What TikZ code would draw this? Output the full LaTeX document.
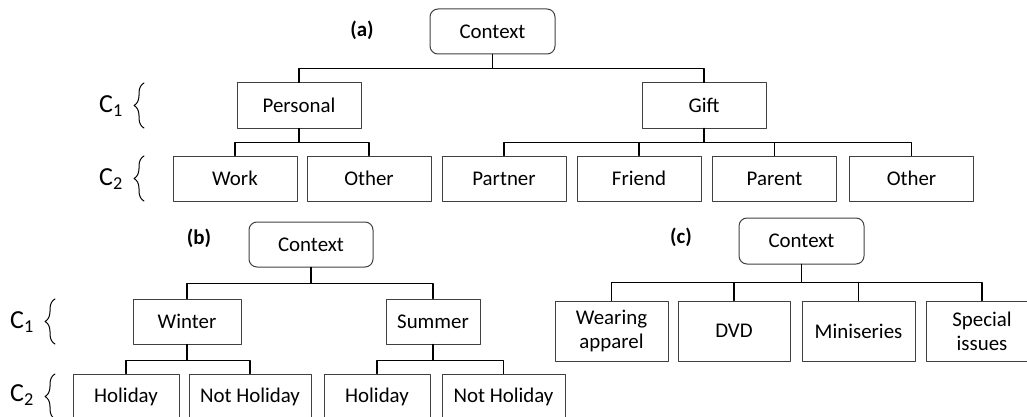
\documentclass[tikz,border=0pt]{standalone}
\usepackage{fontspec}
\setmainfont{Carlito}
\usepackage{tikz}
\usetikzlibrary{positioning}
\usetikzlibrary{decorations.pathreplacing}

\tikzset{
  box/.style={draw=black!75,line width=1pt,minimum width=124pt,minimum height=45pt,inner sep=0pt,align=center,font=\fontsize{20.9}{24}\selectfont},
  rootbox/.style={box,rounded corners=8pt},
  link/.style={line width=1.3pt},
  tag/.style={font=\fontsize{20.9}{24}\selectfont\bfseries},
  clabel/.style={font=\fontsize{26}{30}\selectfont},
  cbrace/.style={line width=1pt,decorate,decoration={brace,amplitude=10pt}}
}

\begin{document}
\begin{tikzpicture}[x=1pt,y=-1pt,line cap=round,line join=round]
\useasboundingbox (0,0) rectangle (1027,417);
\clip (0,0) rectangle (1027,417);

\node[rootbox,minimum width=125pt] (ctxA) at (492.5,31.5) {Context};
\node[tag] (labA) at (362,30) {(a)};
\node[box] (pers) at (299,105.5) {Personal};
\node[box] (gift) at (704,105.5) {Gift};
\node[box] (work) at (235,178.5) {Work};
\node[box] (othA) at (369,178.5) {Other};
\node[box] (partner) at (504,178.5) {Partner};
\node[box] (friend) at (639,178.5) {Friend};
\node[box] (parent) at (774.5,178.5) {Parent};
\node[box] (othB) at (911.5,178.5) {Other};
\foreach \c in {pers,gift} \draw[link] (ctxA.south) -- ++(0,14) -| (\c.north);
\foreach \c in {work,othA} \draw[link] (pers.south) -- ++(0,14) -| (\c.north);
\foreach \c in {partner,friend,parent,othB} \draw[link] (gift.south) -- ++(0,14) -| (\c.north);
\node[clabel] (c1A) at (111,106) {C\textsubscript{1}};
\node[clabel] (c2A) at (111,179) {C\textsubscript{2}};
\draw[cbrace] (144,128) -- (144,83);
\draw[cbrace] (144,201) -- (144,156);

\node[rootbox] (ctxB) at (311,244.5) {Context};
\node[tag] (labB) at (199,238) {(b)};
\node[box,minimum width=108pt] (winter) at (187,321.5) {Winter};
\node[box,minimum width=94pt] (summer) at (433,321.5) {Summer};
\node[box,minimum width=106pt] (holA) at (126,396.5) {Holiday};
\node[box,minimum width=122pt] (notA) at (250,396.5) {Not Holiday};
\node[box,minimum width=106pt] (holB) at (377,396.5) {Holiday};
\node[box,minimum width=123pt] (notB) at (503.5,396.5) {Not Holiday};
\foreach \c in {winter,summer} \draw[link] (ctxB.south) -- ++(0,16) -| (\c.north);
\foreach \c in {holA,notA} \draw[link] (winter.south) -- ++(0,16) -| (\c.north);
\foreach \c in {holB,notB} \draw[link] (summer.south) -- ++(0,16) -| (\c.north);
\node[clabel] (c1B) at (22,322) {C\textsubscript{1}};
\node[clabel] (c2B) at (22,395) {C\textsubscript{2}};
\draw[cbrace] (55,344) -- (55,299);
\draw[cbrace] (55,419) -- (55,374);

\node[rootbox,minimum width=125pt,minimum height=46pt] (ctxC) at (801.5,241) {Context};
\node[tag] (labC) at (681,237) {(c)};
\node[box,minimum width=113pt,minimum height=60pt] (wear) at (611.5,331) {Wearing\\apparel};
\node[box,minimum width=112pt,minimum height=60pt] (dvd) at (734,331) {DVD};
\node[box,minimum width=113pt,minimum height=60pt] (mini) at (858.5,331) {Miniseries};
\node[box,minimum width=112pt,minimum height=60pt] (spec) at (982,331) {Special\\issues};
\foreach \c in {wear,dvd,mini,spec} \draw[link] (ctxC.south) -- ++(0,18) -| (\c.north);
\end{tikzpicture}
\end{document}
